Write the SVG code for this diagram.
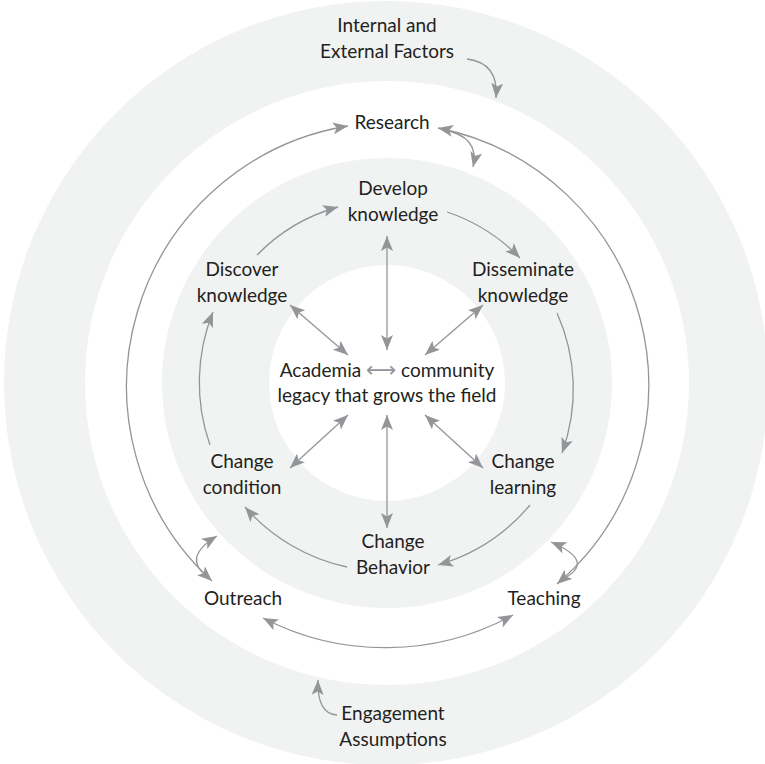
<svg xmlns="http://www.w3.org/2000/svg" width="765" height="764" viewBox="0 0 765 764">
<defs>
<marker id="ah" markerUnits="userSpaceOnUse" markerWidth="17" markerHeight="13" refX="15" refY="6" orient="auto-start-reverse" viewBox="0 0 17 13">
<path d="M0,0 L15,6 L0,12 L3.5,6 z" fill="#939598"/>
</marker>
</defs>
<style>
.ring{fill:#f1f2f2}
.hole{fill:#ffffff}
.t{font-family:"Lato","Open Sans","Liberation Sans",sans-serif;font-size:19px;fill:#231f20;text-anchor:middle}
.c{fill:none;stroke:#939598;stroke-width:1.3}
.a2{marker-start:url(#ah);marker-end:url(#ah)}
.a1{marker-end:url(#ah)}
</style>
<rect width="765" height="764" fill="#ffffff"/>
<g id="rings">
<circle class="ring" cx="386" cy="383" r="382"/>
<circle class="hole" cx="387" cy="383" r="302"/>
<circle class="ring" cx="387" cy="383" r="225"/>
<circle class="hole" cx="387" cy="383" r="118"/>
</g>
<g id="connectors">
<path class="c a1" d="M467,59 Q499,63 496,98"/>
<path class="c a2" d="M212,581 A264 264 0 0 1 348,126"/>
<path class="c a2" d="M438,128 A262 262 0 0 1 557,584"/>
<path class="c a2" d="M263,618 A266 266 0 0 0 513,615"/>
<path class="c a1" d="M443,130 Q480,136 473,167"/>
<path class="c" d="M217,536 Q181,558 208,577" marker-start="url(#ah)"/>
<path class="c" d="M551,542 Q598,562 561,580" marker-start="url(#ah)"/>
<path class="c a1" d="M337,715 Q317,714 318,680"/>
<path class="c a1" d="M257,255 A181 181 0 0 1 338,207"/>
<path class="c a1" d="M447,212 A182 182 0 0 1 520,258"/>
<path class="c a1" d="M557,313 A186 186 0 0 1 562,453"/>
<path class="c a1" d="M530,505 A188 188 0 0 1 438,565"/>
<path class="c a1" d="M347,567 A188 188 0 0 1 245,507"/>
<path class="c a1" d="M210,445 A188 188 0 0 1 213,312"/>
<path class="c a2" d="M387,236 L387,350"/>
<path class="c a2" d="M290,305 L348,355"/>
<path class="c a2" d="M483,305 L425,355"/>
<path class="c a2" d="M348,415 L290,468"/>
<path class="c a2" d="M387,415 L387,528"/>
<path class="c a2" d="M425,415 L483,468"/>
</g>
<g id="internal-factors"><text class="t" x="387" y="32">Internal and</text><text class="t" x="387" y="58">External Factors</text></g>
<g id="research"><text class="t" x="392" y="129">Research</text></g>
<g id="develop"><text class="t" x="393" y="195">Develop</text><text class="t" x="393" y="221">knowledge</text></g>
<g id="discover"><text class="t" x="242" y="276">Discover</text><text class="t" x="242" y="302">knowledge</text></g>
<g id="disseminate"><text class="t" x="523" y="276">Disseminate</text><text class="t" x="523" y="302">knowledge</text></g>
<g id="center"><text class="t" x="387" y="377">Academia <tspan fill="#939598" font-family="DejaVu Sans" font-size="21">⟷</tspan> community</text><text class="t" x="387" y="402">legacy that grows the field</text></g>
<g id="change-condition"><text class="t" x="242" y="468">Change</text><text class="t" x="242" y="494">condition</text></g>
<g id="change-learning"><text class="t" x="523" y="468">Change</text><text class="t" x="523" y="494">learning</text></g>
<g id="change-behavior"><text class="t" x="393" y="548">Change</text><text class="t" x="393" y="574">Behavior</text></g>
<g id="outreach"><text class="t" x="243" y="605">Outreach</text></g>
<g id="teaching"><text class="t" x="544" y="605">Teaching</text></g>
<g id="engagement"><text class="t" x="393" y="720">Engagement</text><text class="t" x="393" y="746">Assumptions</text></g>
</svg>
